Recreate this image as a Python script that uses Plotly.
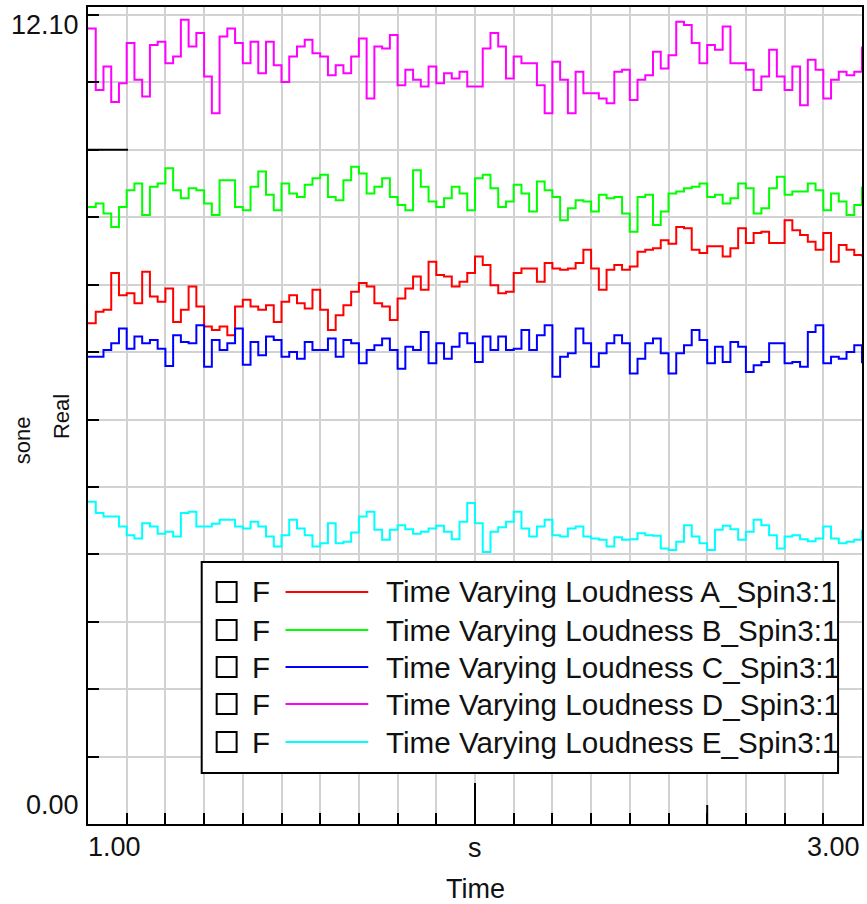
import plotly.graph_objects as go

# ---------------- data ----------------
time_s = [round(1.0 + 0.02 * i, 2) for i in range(101)]

loud_a = [7.49, 7.66, 7.69, 8.24, 7.91, 7.94, 7.79, 8.26, 7.89, 7.81, 8.01, 7.51, 7.69, 8.04, 7.74, 7.44, 7.39, 7.44, 7.31, 7.74, 7.84,
          7.74, 7.69, 7.76, 7.51, 7.81, 7.91, 7.79, 7.71, 7.99, 7.69, 7.39, 7.61, 7.76, 7.96, 8.09, 8.04, 7.79, 7.74, 7.54, 7.86,
          8.01, 8.19, 7.99, 8.41, 8.21, 8.19, 8.04, 8.11, 8.24, 8.49, 8.36, 8.06, 7.94, 7.96, 8.24, 8.31, 8.31, 8.11, 8.39, 8.31,
          8.29, 8.31, 8.39, 8.59, 8.31, 7.99, 8.29, 8.36, 8.29, 8.34, 8.56, 8.59, 8.61, 8.73, 8.68, 8.93, 8.91, 8.59, 8.54, 8.64, 8.64,
          8.49, 8.61, 8.91, 8.69, 8.84, 8.86, 8.69, 8.69, 9.03, 8.88, 8.81, 8.71, 8.59, 8.84, 8.41, 8.66, 8.59, 8.51, 8.49]

loud_b = [9.23, 9.28, 9.13, 8.93, 9.23, 9.48, 9.58, 9.11, 9.53, 9.58, 9.81, 9.48, 9.36, 9.51, 9.48, 9.28, 9.11, 9.63, 9.63, 9.23, 9.18,
          9.53, 9.76, 9.41, 9.18, 9.58, 9.43, 9.38, 9.56, 9.66, 9.71, 9.38, 9.33, 9.63, 9.83, 9.73, 9.43, 9.53, 9.66, 9.38, 9.26,
          9.18, 9.78, 9.53, 9.31, 9.23, 9.36, 9.53, 9.43, 9.18, 9.66, 9.71, 9.51, 9.23, 9.31, 9.56, 9.43, 9.16, 9.61, 9.48, 9.38,
          9.03, 9.21, 9.33, 9.31, 9.16, 9.41, 9.36, 9.38, 9.13, 8.86, 9.38, 9.41, 8.96, 9.16, 9.43, 9.46, 9.51, 9.53, 9.58, 9.38, 9.41,
          9.28, 9.36, 9.58, 9.51, 9.13, 9.21, 9.51, 9.68, 9.41, 9.46, 9.46, 9.58, 9.48, 9.18, 9.43, 9.31, 9.11, 9.26, 9.53]

loud_c = [6.99, 6.99, 7.09, 7.19, 7.41, 7.11, 7.29, 7.19, 7.24, 7.11, 6.85, 7.31, 7.21, 7.19, 7.46, 6.84, 7.24, 7.09, 7.19, 7.41, 6.87,
          7.21, 7.01, 7.29, 7.24, 6.99, 7.06, 6.96, 7.21, 7.09, 7.09, 7.26, 6.99, 7.24, 7.19, 6.89, 7.09, 7.16, 7.26, 7.09, 6.81,
          7.14, 7.09, 7.36, 6.89, 7.19, 6.96, 7.14, 7.34, 7.19, 6.91, 7.29, 7.09, 7.29, 7.09, 7.11, 7.39, 7.09, 7.31, 7.46, 6.69,
          6.99, 7.04, 7.41, 7.19, 6.84, 7.04, 7.19, 7.31, 7.19, 6.74, 6.96, 7.19, 7.26, 7.04, 6.74, 7.04, 7.16, 7.39, 7.24, 6.89, 7.14,
          6.91, 7.21, 7.14, 6.76, 6.86, 6.91, 7.19, 7.19, 6.89, 6.91, 6.84, 7.36, 7.46, 6.89, 6.99, 6.96, 7.06, 7.16, 6.89]

loud_d = [11.90, 10.98, 11.33, 10.80, 11.08, 11.68, 11.13, 10.88, 11.65, 11.70, 11.38, 11.48, 12.03, 11.63, 11.83, 11.18, 10.63, 11.78, 11.90, 11.68, 11.38,
          11.70, 11.23, 11.70, 11.35, 11.10, 11.48, 11.63, 11.73, 11.53, 11.48, 11.20, 11.35, 11.23, 11.48, 11.75, 10.85, 11.63, 11.60, 11.80, 11.05,
          11.28, 11.13, 11.03, 11.33, 11.08, 11.23, 11.15, 11.25, 11.03, 11.03, 11.60, 11.83, 11.63, 11.15, 11.48, 11.38, 11.38, 11.05, 10.63, 11.40,
          11.13, 10.63, 11.25, 10.93, 10.93, 10.85, 10.78, 11.25, 11.28, 10.83, 11.13, 11.20, 11.55, 11.30, 11.50, 12.00, 11.95, 11.68, 11.38, 11.65, 11.58,
          11.93, 11.38, 11.38, 11.28, 10.98, 11.18, 11.58, 11.18, 10.98, 11.33, 10.75, 11.43, 11.28, 10.85, 11.13, 11.25, 11.20, 11.25, 11.63]

loud_e = [4.82, 4.65, 4.60, 4.60, 4.45, 4.32, 4.27, 4.50, 4.45, 4.34, 4.37, 4.30, 4.65, 4.67, 4.45, 4.45, 4.49, 4.55, 4.55, 4.45, 4.42,
          4.52, 4.45, 4.30, 4.15, 4.32, 4.55, 4.42, 4.32, 4.15, 4.20, 4.50, 4.20, 4.22, 4.36, 4.60, 4.67, 4.40, 4.25, 4.40, 4.47,
          4.41, 4.34, 4.37, 4.42, 4.46, 4.37, 4.26, 4.52, 4.80, 4.50, 4.07, 4.37, 4.44, 4.52, 4.67, 4.42, 4.30, 4.45, 4.55, 4.32,
          4.30, 4.42, 4.45, 4.30, 4.27, 4.25, 4.15, 4.29, 4.25, 4.26, 4.35, 4.32, 4.31, 4.12, 4.10, 4.22, 4.47, 4.30, 4.20, 4.10,
          4.40, 4.46, 4.41, 4.25, 4.37, 4.55, 4.47, 4.32, 4.12, 4.30, 4.32, 4.26, 4.23, 4.27, 4.45, 4.27, 4.20, 4.22, 4.25, 4.40]

series_names = ["Time Varying Loudness A_Spin3:1",
                "Time Varying Loudness B_Spin3:1",
                "Time Varying Loudness C_Spin3:1",
                "Time Varying Loudness D_Spin3:1",
                "Time Varying Loudness E_Spin3:1"]
series_values = [loud_a, loud_b, loud_c, loud_d, loud_e]
series_colors = ["#ff0000", "#00ff00", "#0000ff", "#ff00ff", "#00ffff"]

y_max_label = 12.10
x_min, x_max = 1.0, 3.0

# ---------------- geometry ----------------
W, H = 867, 904
L, R, T, B = 88, 3, 7, 80
PW = W - L - R
PH = H - T - B
FONT = "Liberation Sans, Arial, sans-serif"
TXT = "#111111"


def px(x):
    return (x - L) / PW


def py(y):
    return (H - B - y) / PH


fig = go.Figure()
for name, vals, col in zip(series_names, series_values, series_colors):
    fig.add_trace(go.Scatter(x=time_s, y=vals, mode="lines", name=name,
                             line=dict(color=col, width=2, shape="hv"),
                             showlegend=False, hoverinfo="skip"))

ydiv = y_max_label / 12
fig.update_layout(
    width=W, height=H,
    margin=dict(l=L, r=R, t=T, b=B, pad=0),
    paper_bgcolor="white", plot_bgcolor="white",
    showlegend=False,
    font=dict(family=FONT, color=TXT),
    xaxis=dict(range=[x_min, x_max], tick0=1.0, dtick=0.1,
               showgrid=True, gridcolor="#d2d2d2", gridwidth=2,
               ticks="inside", ticklen=11, tickwidth=2, tickcolor="black",
               showticklabels=False, showline=True, linecolor="black",
               linewidth=2, mirror=True, zeroline=False),
    yaxis=dict(range=[0, 12.22], tick0=0, dtick=ydiv,
               showgrid=True, gridcolor="#d2d2d2", gridwidth=2,
               ticks="inside", ticklen=11, tickwidth=2, tickcolor="black",
               showticklabels=False, showline=True, linecolor="black",
               linewidth=2, mirror=True, zeroline=False),
)

# longer tick marks
fig.add_shape(type="line", xref="x", yref="y", x0=2.0, x1=2.0, y0=0, y1=41,
              ysizemode="pixel", yanchor=0, line=dict(color="black", width=2))
fig.add_shape(type="line", xref="x", yref="y", x0=2.6, x1=2.6, y0=0, y1=19,
              ysizemode="pixel", yanchor=0, line=dict(color="black", width=2))
fig.add_shape(type="line", xref="x", yref="y", y0=10 * ydiv, y1=10 * ydiv,
              x0=0, x1=40, xsizemode="pixel", xanchor=x_min,
              line=dict(color="black", width=2))

ann = []
FS = 27
FSL = 29.6
FSV = 22
# axis labels
ann.append(dict(text="12.10", xref="paper", yref="y", x=0, y=y_max_label,
                xanchor="right", yanchor="middle", xshift=-7, yshift=-10,
                showarrow=False, font=dict(size=FS)))
ann.append(dict(text="0.00", xref="paper", yref="y", x=0, y=0,
                xanchor="right", yanchor="middle", xshift=-7, yshift=19,
                showarrow=False, font=dict(size=FS)))
ann.append(dict(text="1.00", xref="x", yref="paper", x=x_min, y=0,
                xanchor="left", yanchor="middle", xshift=-2, yshift=-23,
                showarrow=False, font=dict(size=FS)))
ann.append(dict(text="3.00", xref="x", yref="paper", x=x_max, y=0,
                xanchor="right", yanchor="middle", xshift=0, yshift=-23,
                showarrow=False, font=dict(size=FS)))
ann.append(dict(text="s", xref="x", yref="paper", x=2.0, y=0,
                xanchor="center", yanchor="middle", yshift=-24,
                showarrow=False, font=dict(size=FS)))
ann.append(dict(text="Time", xref="x", yref="paper", x=2.0, y=0,
                xanchor="center", yanchor="middle", yshift=-65,
                showarrow=False, font=dict(size=FS)))
ann.append(dict(text="sone", xref="paper", yref="paper", x=px(22), y=py(440),
                xanchor="center", yanchor="middle", textangle=-90,
                showarrow=False, font=dict(size=FSV)))
ann.append(dict(text="Real", xref="paper", yref="paper", x=px(61), y=py(417),
                xanchor="center", yanchor="middle", textangle=-90,
                showarrow=False, font=dict(size=FSV)))

# custom legend box
fig.add_shape(type="rect", xref="paper", yref="paper",
              x0=px(202), x1=px(840), y0=py(773), y1=py(562),
              line=dict(color="black", width=2), fillcolor="white")
row_y = [592, 630, 667, 704, 742]
for ry, name, col in zip(row_y, series_names, series_colors):
    fig.add_shape(type="rect", xref="paper", yref="paper",
                  x0=px(217), x1=px(237), y0=py(ry + 10), y1=py(ry - 10),
                  line=dict(color="black", width=2), fillcolor="white")
    fig.add_shape(type="line", xref="paper", yref="paper",
                  x0=px(286), x1=px(369), y0=py(ry), y1=py(ry),
                  line=dict(color=col, width=2))
    ann.append(dict(text="F", xref="paper", yref="paper", x=px(250), y=py(ry),
                    xanchor="left", yanchor="middle", showarrow=False,
                    font=dict(size=FSL)))
    ann.append(dict(text=name, xref="paper", yref="paper", x=px(385), y=py(ry),
                    xanchor="left", yanchor="middle", showarrow=False,
                    font=dict(size=FSL)))

fig.update_layout(annotations=ann)
fig.write_html("out.html", config={"displayModeBar": False},
               post_script="document.body.style.margin='0';document.body.style.padding='0';")
